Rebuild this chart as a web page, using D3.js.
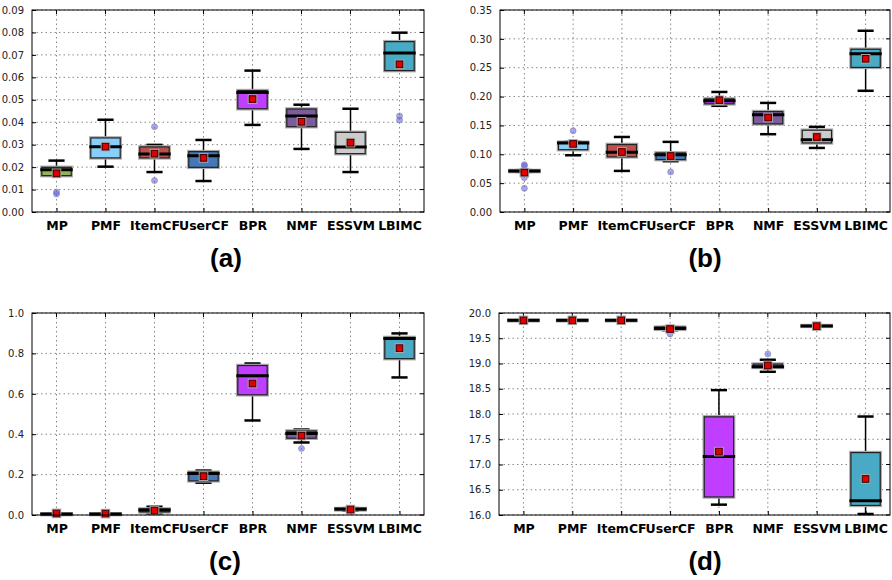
<!DOCTYPE html>
<html>
<head>
<meta charset="utf-8">
<script src="https://cdn.jsdelivr.net/npm/d3@7"></script>
<style>
  body { margin: 0; background: #fff; }
  svg { display: block; }
</style>
</head>
<body>
<div id="chart"></div>
<script>
const methods = ["MP", "PMF", "ItemCF", "UserCF", "BPR", "NMF", "ESSVM", "LBIMC"];
const boxColors = ["#93b35a", "#87cefa", "#bf4f4c", "#4379b8", "#bf3eff", "#7d5c9e", "#cccccc", "#48aac4"];

// each row: [whiskerLow, q1, median, q3, whiskerHigh, mean]
const statsA = [
  [0.0162, 0.0162, 0.0188, 0.0199, 0.0229, 0.0172],
  [0.0202, 0.0241, 0.0291, 0.0330, 0.0411, 0.0291],
  [0.0178, 0.0241, 0.0258, 0.0290, 0.0299, 0.0260],
  [0.0138, 0.0199, 0.0251, 0.0269, 0.0321, 0.0241],
  [0.0388, 0.0460, 0.0532, 0.0541, 0.0630, 0.0503],
  [0.0281, 0.0380, 0.0428, 0.0459, 0.0478, 0.0402],
  [0.0178, 0.0260, 0.0290, 0.0355, 0.0460, 0.0309],
  [0.0630, 0.0630, 0.0708, 0.0759, 0.0799, 0.0658]
];
const outliersA = [[0.0089, 0.0080], [], [0.0380, 0.0140], [], [], [], [], [0.0428, 0.0410]];

const statsB = [
  [0.0695, 0.0700, 0.0710, 0.0720, 0.0725, 0.0683],
  [0.0983, 0.1080, 0.1197, 0.1210, 0.1215, 0.1180],
  [0.0712, 0.0955, 0.1036, 0.1170, 0.1300, 0.1040],
  [0.0880, 0.0908, 0.0990, 0.1024, 0.1215, 0.0970],
  [0.1840, 0.1874, 0.1926, 0.1960, 0.2080, 0.1938],
  [0.1348, 0.1527, 0.1683, 0.1740, 0.1890, 0.1637],
  [0.1110, 0.1197, 0.1250, 0.1417, 0.1475, 0.1300],
  [0.2100, 0.2505, 0.2740, 0.2820, 0.3140, 0.2655]
];
const outliersB = [[0.0820, 0.0800, 0.0595, 0.0410], [0.1406], [], [0.0694], [], [], [], []];

const statsC = [
  [0.001, 0.002, 0.005, 0.006, 0.008, 0.008],
  [0.001, 0.002, 0.005, 0.006, 0.008, 0.007],
  [0.008, 0.015, 0.025, 0.030, 0.041, 0.022],
  [0.160, 0.169, 0.205, 0.212, 0.220, 0.192],
  [0.468, 0.595, 0.689, 0.740, 0.750, 0.651],
  [0.359, 0.380, 0.403, 0.416, 0.423, 0.393],
  [0.021, 0.025, 0.030, 0.032, 0.034, 0.027],
  [0.681, 0.774, 0.874, 0.879, 0.899, 0.826]
];
const outliersC = [[], [], [], [], [], [0.329], [], []];

const statsD = [
  [19.855, 19.855, 19.855, 19.855, 19.855, 19.855],
  [19.855, 19.855, 19.855, 19.855, 19.855, 19.855],
  [19.855, 19.855, 19.855, 19.855, 19.855, 19.855],
  [19.660, 19.676, 19.700, 19.720, 19.722, 19.683],
  [16.205, 16.357, 17.157, 17.944, 18.473, 17.256],
  [18.836, 18.922, 18.935, 18.990, 19.074, 18.960],
  [19.730, 19.735, 19.742, 19.752, 19.758, 19.740],
  [16.020, 16.190, 16.284, 17.236, 17.950, 16.714]
];
const outliersD = [[], [], [], [19.583], [], [19.190], [], []];

const ticksA = d3.range(0, 0.0901, 0.01);
const ticksB = d3.range(0, 0.3501, 0.05);
const ticksC = d3.range(0, 1.001, 0.2);
const ticksD = d3.range(16, 20.001, 0.5);

const panels = [
  { stats: statsA, outliers: outliersA, ticks: ticksA, domain: [0, 0.09], fmt: ".2f", label: "(a)", labelX: 226, left: 32, right: 424, top: 10, bottom: 212 },
  { stats: statsB, outliers: outliersB, ticks: ticksB, domain: [0, 0.35], fmt: ".2f", label: "(b)", labelX: 705, left: 500, right: 890, top: 10, bottom: 212 },
  { stats: statsC, outliers: outliersC, ticks: ticksC, domain: [0, 1.0], fmt: ".1f", label: "(c)", labelX: 225, left: 32, right: 424, top: 313, bottom: 515 },
  { stats: statsD, outliers: outliersD, ticks: ticksD, domain: [16, 20], fmt: ".1f", label: "(d)", labelX: 705, left: 499, right: 890, top: 313, bottom: 515 }
];

const svg = d3.select("#chart").append("svg")
  .attr("width", 892)
  .attr("height", 580);

function drawPanel(p) {
  const x = d3.scaleLinear().domain([0.5, methods.length + 0.5]).range([p.left, p.right]);
  const y = d3.scaleLinear().domain(p.domain).range([p.bottom, p.top]);
  const g = svg.append("g");
  const half = (x(1.3) - x(1));
  const capHalf = half * 0.55;

  // dotted grid
  g.selectAll(".hgrid").data(p.ticks).enter().append("line")
    .attr("x1", p.left).attr("x2", p.right)
    .attr("y1", d => y(d)).attr("y2", d => y(d))
    .attr("stroke", "#888").attr("stroke-width", 1)
    .attr("stroke-dasharray", "1.5,3");
  g.selectAll(".vgrid").data(methods).enter().append("line")
    .attr("x1", (d, i) => x(i + 1)).attr("x2", (d, i) => x(i + 1))
    .attr("y1", p.top).attr("y2", p.bottom)
    .attr("stroke", "#888").attr("stroke-width", 1)
    .attr("stroke-dasharray", "1.5,3");

  // y tick labels
  const yAxis = d3.axisLeft(y).tickValues(p.ticks).tickFormat(d3.format(p.fmt)).tickSizeInner(-4).tickSizeOuter(0).tickPadding(8);
  const ya = g.append("g").attr("transform", `translate(${p.left},0)`).call(yAxis);
  ya.select(".domain").remove();
  ya.selectAll("text").attr("font-family", "DejaVu Sans").attr("font-size", 10).attr("fill", "#222");
  ya.selectAll("line").attr("stroke", "#000");

  // x axis labels
  const xAxis = d3.axisBottom(x).tickValues(d3.range(1, methods.length + 1)).tickFormat(i => methods[i - 1]).tickSizeInner(-4).tickSizeOuter(0).tickPadding(9);
  const xa = g.append("g").attr("transform", `translate(0,${p.bottom})`).call(xAxis);
  xa.select(".domain").remove();
  xa.selectAll("text").attr("font-family", "DejaVu Sans").attr("font-weight", "bold").attr("font-size", 12.5).attr("fill", "#000");
  xa.selectAll("line").attr("stroke", "#000");

  // top/right inward ticks
  g.selectAll(".tt").data(d3.range(1, methods.length + 1)).enter().append("line")
    .attr("x1", d => x(d)).attr("x2", d => x(d))
    .attr("y1", p.top).attr("y2", p.top + 4).attr("stroke", "#000");
  g.selectAll(".rt").data(p.ticks).enter().append("line")
    .attr("x1", p.right).attr("x2", p.right - 4)
    .attr("y1", d => y(d)).attr("y2", d => y(d)).attr("stroke", "#000");

  p.stats.forEach((s, i) => {
    const cx = x(i + 1);
    const [lo, q1, med, q3, hi, mean] = s;
    // whiskers
    g.append("line").attr("x1", cx).attr("x2", cx).attr("y1", y(hi)).attr("y2", y(q3))
      .attr("stroke", "#000").attr("stroke-width", 1.5);
    g.append("line").attr("x1", cx).attr("x2", cx).attr("y1", y(q1)).attr("y2", y(lo))
      .attr("stroke", "#000").attr("stroke-width", 1.5);
    [lo, hi].forEach(v => {
      g.append("line").attr("x1", cx - capHalf).attr("x2", cx + capHalf)
        .attr("y1", y(v)).attr("y2", y(v))
        .attr("stroke", "#000").attr("stroke-width", 2.5);
    });
    // box
    const bh = Math.max(y(q1) - y(q3), 0.5);
    g.append("rect").attr("x", cx - half).attr("y", y(q3)).attr("width", half * 2).attr("height", bh)
      .attr("fill", "none").attr("stroke", "#aaa").attr("stroke-width", 3.5);
    g.append("rect").attr("x", cx - half).attr("y", y(q3)).attr("width", half * 2).attr("height", bh)
      .attr("fill", boxColors[i]).attr("stroke", "#222").attr("stroke-width", 1.2);
    // median
    g.append("line").attr("x1", cx - half - 1.5).attr("x2", cx + half + 1.5)
      .attr("y1", y(med)).attr("y2", y(med))
      .attr("stroke", "#000").attr("stroke-width", 3);
    // outliers
    g.selectAll(null).data(p.outliers[i]).enter().append("circle")
      .attr("cx", cx).attr("cy", d => y(d)).attr("r", 3)
      .attr("fill", "#5a5af5").attr("fill-opacity", 0.55)
      .attr("stroke", "#888").attr("stroke-opacity", 0.6).attr("stroke-width", 1);
    // mean
    g.append("rect").attr("x", cx - 4.2).attr("y", y(mean) - 4.2).attr("width", 8.4).attr("height", 8.4)
      .attr("fill", "none").attr("stroke", "#aaa").attr("stroke-width", 1.2);
    g.append("rect").attr("x", cx - 3.3).attr("y", y(mean) - 3.3).attr("width", 6.6).attr("height", 6.6)
      .attr("fill", "#e00000").attr("stroke", "#400").attr("stroke-width", 1);
  });

  // frame
  g.append("rect").attr("x", p.left).attr("y", p.top)
    .attr("width", p.right - p.left).attr("height", p.bottom - p.top)
    .attr("fill", "none").attr("stroke", "#000").attr("stroke-width", 1);

  // panel label
  g.append("text")
    .attr("x", p.labelX)
    .attr("y", p.bottom + 55)
    .attr("text-anchor", "middle")
    .attr("font-family", "Liberation Sans, Arial, sans-serif")
    .attr("font-weight", "bold")
    .attr("font-size", 26)
    .text(p.label);
}

panels.forEach(drawPanel);
</script>
</body>
</html>
